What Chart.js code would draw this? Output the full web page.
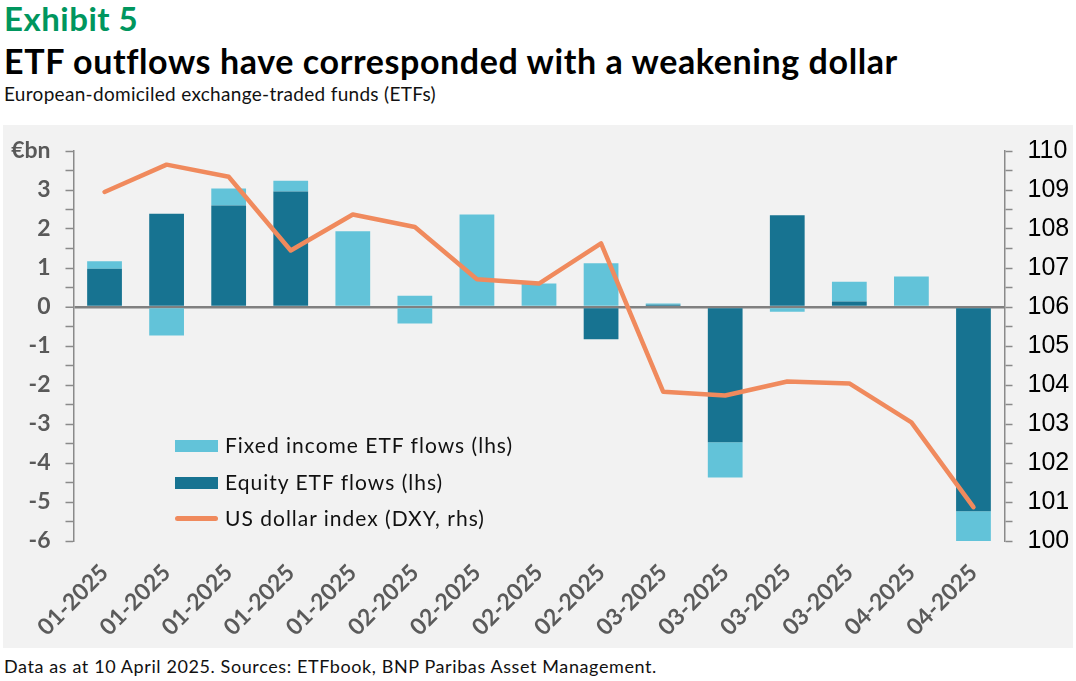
<!DOCTYPE html>
<html>
<head>
<meta charset="utf-8">
<script src="https://cdn.jsdelivr.net/npm/chart.js@4.4.1/dist/chart.umd.min.js"></script>
<style>
  html, body { margin: 0; padding: 0; background: #ffffff; }
  body { width: 1076px; height: 681px; position: relative; overflow: hidden; font-family: "Lato", "Open Sans", sans-serif; }
  #exhibit { position: absolute; left: 4px; top: 0px; font-size: 33px; font-weight: bold; color: #00965e; line-height: 36px; letter-spacing: 0.5px; }
  #title { position: absolute; left: 4px; top: 41px; font-size: 34px; font-weight: bold; color: #000; line-height: 40px; letter-spacing: 0.6px; }
  #subtitle { position: absolute; left: 4px; top: 82px; font-size: 19px; color: #111; line-height: 24px; letter-spacing: 0.3px; }
  #panel { position: absolute; left: 3px; top: 125px; width: 1070px; height: 523px; background: #f2f2f2; }
  #chartWrap { position: absolute; left: 0; top: 0; width: 1070px; height: 523px; }
  #footnote { position: absolute; left: 4px; top: 655px; font-size: 18px; color: #111; line-height: 22px; letter-spacing: 0.6px; }
  #legend { position: absolute; left: 172px; top: 302px; font-size: 21px; color: #111; letter-spacing: 1px; }
  .item { position: relative; height: 36.5px; line-height: 36.5px; padding-left: 50px; white-space: nowrap; }
  .swatch { position: absolute; left: 0; top: 13px; width: 43px; height: 12px; }
  .lineSwatch { position: absolute; left: 0; top: 16px; width: 43px; height: 5px; border-radius: 3px; background: #f08a5d; }
</style>
</head>
<body>
<div id="exhibit">Exhibit 5</div>
<div id="title">ETF outflows have corresponded with a weakening dollar</div>
<div id="subtitle">European-domiciled exchange-traded funds (ETFs)</div>
<div id="panel">
  <div id="chartWrap"><canvas id="flowsChart"></canvas></div>
  <div id="legend">
    <div class="item"><span class="swatch" style="background:#62c3d9"></span>Fixed income ETF flows (lhs)</div>
    <div class="item"><span class="swatch" style="background:#177391"></span>Equity ETF flows (lhs)</div>
    <div class="item"><span class="lineSwatch"></span>US dollar index (DXY, rhs)</div>
  </div>
</div>
<div id="footnote">Data as at 10 April 2025. Sources: ETFbook, BNP Paribas Asset Management.</div>

<script>
// weekly periods (month-year)
const weeks = ["01-2025", "01-2025", "01-2025", "01-2025", "01-2025",
               "02-2025", "02-2025", "02-2025", "02-2025",
               "03-2025", "03-2025", "03-2025", "03-2025",
               "04-2025", "04-2025"];

// ETF flows, EUR bn (lhs)
const equityFlows = [0.98, 2.39, 2.6, 2.96, 0, 0, 0, 0, -0.83, 0.06, -3.47, 2.35, 0.14, 0.03, -5.24];
const fixedIncomeFlows = [0.19, -0.73, 0.44, 0.28, 1.94, 0.29, 2.37, 0.6, 1.12, 0.03, -0.9, -0.12, 0.51, 0.75, -0.76];
// second fixed income leg shown below zero in the same week
const fixedIncomeOut = [null, null, null, null, null, -0.42, null, null, null, null, null, null, null, null, null];

// US dollar index (rhs)
const dxy = [108.95, 109.65, 109.34, 107.45, 108.37, 108.05, 106.71, 106.6, 107.63, 103.83, 103.73, 104.09, 104.04, 103.04, 100.87];

// axis ranges
const lhsMin = -6, lhsMax = 4;
const rhsMin = 100, rhsMax = 110;

const lightBlue = "#62c3d9";
const darkBlue = "#177391";
const orange = "#f08a5d";
const axisGrey = "#8a8a8a";

// keep the plot area where the reference has it
function fixVertical(scale, width) {
    scale.width = width;
    scale.paddingTop = 0;
    scale.paddingBottom = 0;
}

const ctx = document.getElementById("flowsChart").getContext("2d");
const flowsChart = new Chart(ctx, {
    type: "bar",
    data: {
        labels: weeks,
        datasets: [
            {
                type: "line",
                label: "US dollar index (DXY, rhs)",
                data: dxy,
                yAxisID: "y1",
                borderColor: orange,
                borderWidth: 4.5,
                borderCapStyle: "round",
                borderJoinStyle: "round",
                pointRadius: 0,
                tension: 0,
                order: 0
            },
            {
                label: "Equity ETF flows (lhs)",
                data: equityFlows,
                backgroundColor: darkBlue,
                yAxisID: "y",
                barPercentage: 0.56,
                categoryPercentage: 1,
                order: 1
            },
            {
                label: "Fixed income ETF flows (lhs)",
                data: fixedIncomeFlows,
                backgroundColor: lightBlue,
                yAxisID: "y",
                barPercentage: 0.56,
                categoryPercentage: 1,
                order: 1
            },
            {
                label: "Fixed income ETF flows (lhs) ",
                data: fixedIncomeOut,
                backgroundColor: lightBlue,
                yAxisID: "y",
                barPercentage: 0.56,
                categoryPercentage: 1,
                order: 1
            }
        ]
    },
    options: {
        responsive: true,
        maintainAspectRatio: false,
        animation: false,
        layout: { padding: { top: 26, left: 0, right: 0, bottom: 0 } },
        plugins: {
            legend: { display: false },
            tooltip: { enabled: false }
        },
        scales: {
            x: {
                stacked: true,
                grid: { display: false },
                border: { display: false },
                ticks: {
                    autoSkip: false,
                    maxRotation: 45,
                    minRotation: 45,
                    padding: 10,
                    color: "#5a5a5a",
                    font: { family: "Lato", size: 23, weight: "bold" }
                },
                afterFit: (scale) => {
                    scale.height = 107;
                    scale.paddingLeft = 0;
                    scale.paddingRight = 0;
                }
            },
            y: {
                stacked: true,
                position: "left",
                min: lhsMin,
                max: lhsMax,
                border: { display: true, color: axisGrey, width: 1.5 },
                grid: {
                    drawOnChartArea: true,
                    color: (c) => (c.tick && c.tick.value === 0 ? "#808080" : "rgba(0,0,0,0)"),
                    lineWidth: (c) => (c.tick && c.tick.value === 0 ? 2.5 : 1),
                    tickColor: axisGrey,
                    tickWidth: 1.5,
                    tickLength: 8
                },
                ticks: {
                    stepSize: 0.5,
                    autoSkip: false,
                    padding: 15,
                    color: "#595959",
                    font: { family: "Lato", size: 23, weight: "bold" },
                    callback: (v) => (v === lhsMax ? "€bn" : (Number.isInteger(v) ? String(v) : ""))
                },
                afterFit: (scale) => fixVertical(scale, 70.5)
            },
            y1: {
                position: "right",
                min: rhsMin,
                max: rhsMax,
                border: { display: true, color: axisGrey, width: 1.5 },
                grid: {
                    drawOnChartArea: false,
                    tickColor: axisGrey,
                    tickWidth: 1.5,
                    tickLength: 8
                },
                ticks: {
                    stepSize: 0.5,
                    autoSkip: false,
                    padding: 15,
                    color: "#000000",
                    font: { family: "'Liberation Sans', Arial, sans-serif", size: 25 },
                    callback: (v) => (Number.isInteger(v) ? String(v) : "")
                },
                afterFit: (scale) => fixVertical(scale, 68.5)
            }
        }
    }
});
</script>
</body>
</html>
